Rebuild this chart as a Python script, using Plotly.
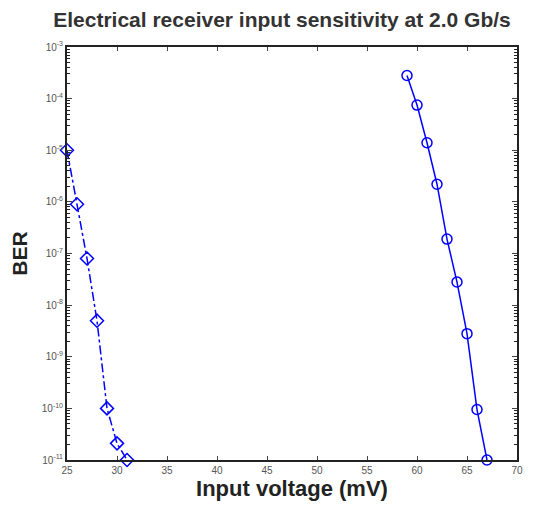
import plotly.graph_objects as go

# BER vs input voltage
volt_a = [25, 26, 27, 28, 29, 30, 31]
ber_a = [1.0e-5, 9.0e-7, 8.0e-8, 5.0e-9, 1.0e-10, 2.1e-11, 1.0e-11]

volt_b = [59, 60, 61, 62, 63, 64, 65, 66, 67]
ber_b = [2.8e-4, 7.5e-5, 1.4e-5, 2.2e-6, 1.9e-7, 2.8e-8, 2.8e-9, 9.5e-11, 1.0e-11]

x_ticks = [25, 30, 35, 40, 45, 50, 55, 60, 65, 70]
y_exps = [-3, -4, -5, -6, -7, -8, -9, -10, -11]

BLUE = "#0000ff"

fig = go.Figure()
fig.add_trace(
    go.Scatter(
        x=volt_a, y=ber_a, mode="lines+markers",
        line=dict(color=BLUE, width=1.5, dash="dashdot"),
        marker=dict(symbol="diamond-open", size=10, color=BLUE, line=dict(width=1.5)),
        cliponaxis=False, showlegend=False,
    )
)
fig.add_trace(
    go.Scatter(
        x=volt_b, y=ber_b, mode="lines+markers",
        line=dict(color=BLUE, width=1.5),
        marker=dict(symbol="circle-open", size=10, color=BLUE, line=dict(width=1.5)),
        cliponaxis=False, showlegend=False,
    )
)

# page body has an 8px margin, so the figure is sized to fit inside the window
fig.update_layout(
    width=532, height=500,
    template="simple_white",
    margin=dict(l=59, r=23, t=39, b=48),
    font=dict(family="Liberation Sans, Arial, sans-serif", color="#222"),
    title=dict(
        text="<b>Electrical receiver input sensitivity at 2.0 Gb/s</b>",
        x=0.515, xanchor="center", y=0.976, yanchor="middle",
        font=dict(size=21, color="#333"),
    ),
    plot_bgcolor="white",
)
fig.update_xaxes(
    range=[25, 70], tickvals=x_ticks, ticks="inside", ticklen=4,
    showline=True, linecolor="#222", linewidth=2, mirror="ticks",
    tickfont=dict(size=10, color="#555"), automargin=False,
    title=dict(text="<b>Input voltage (mV)</b>", font=dict(size=22, color="#222"), standoff=0),
    showgrid=False, zeroline=False,
)
minor_vals = [k * 10.0 ** e for e in range(-11, -3) for k in range(2, 10)]
fig.update_yaxes(
    type="log", range=[-11, -3],
    tickvals=[10.0 ** e for e in y_exps],
    ticktext=["10<sup>%d</sup>" % e for e in y_exps],
    ticks="inside", ticklen=5,
    minor=dict(tickmode="array", tickvals=minor_vals, ticks="inside", ticklen=3,
               tickcolor="#222", showgrid=False),
    showline=True, linecolor="#222", linewidth=2, mirror="ticks",
    tickfont=dict(size=10, color="#555"), automargin=False,
    title=dict(text="<b>BER</b>", font=dict(size=21, color="#222"), standoff=8),
    showgrid=False, zeroline=False,
)

fig.write_html("out.html")
